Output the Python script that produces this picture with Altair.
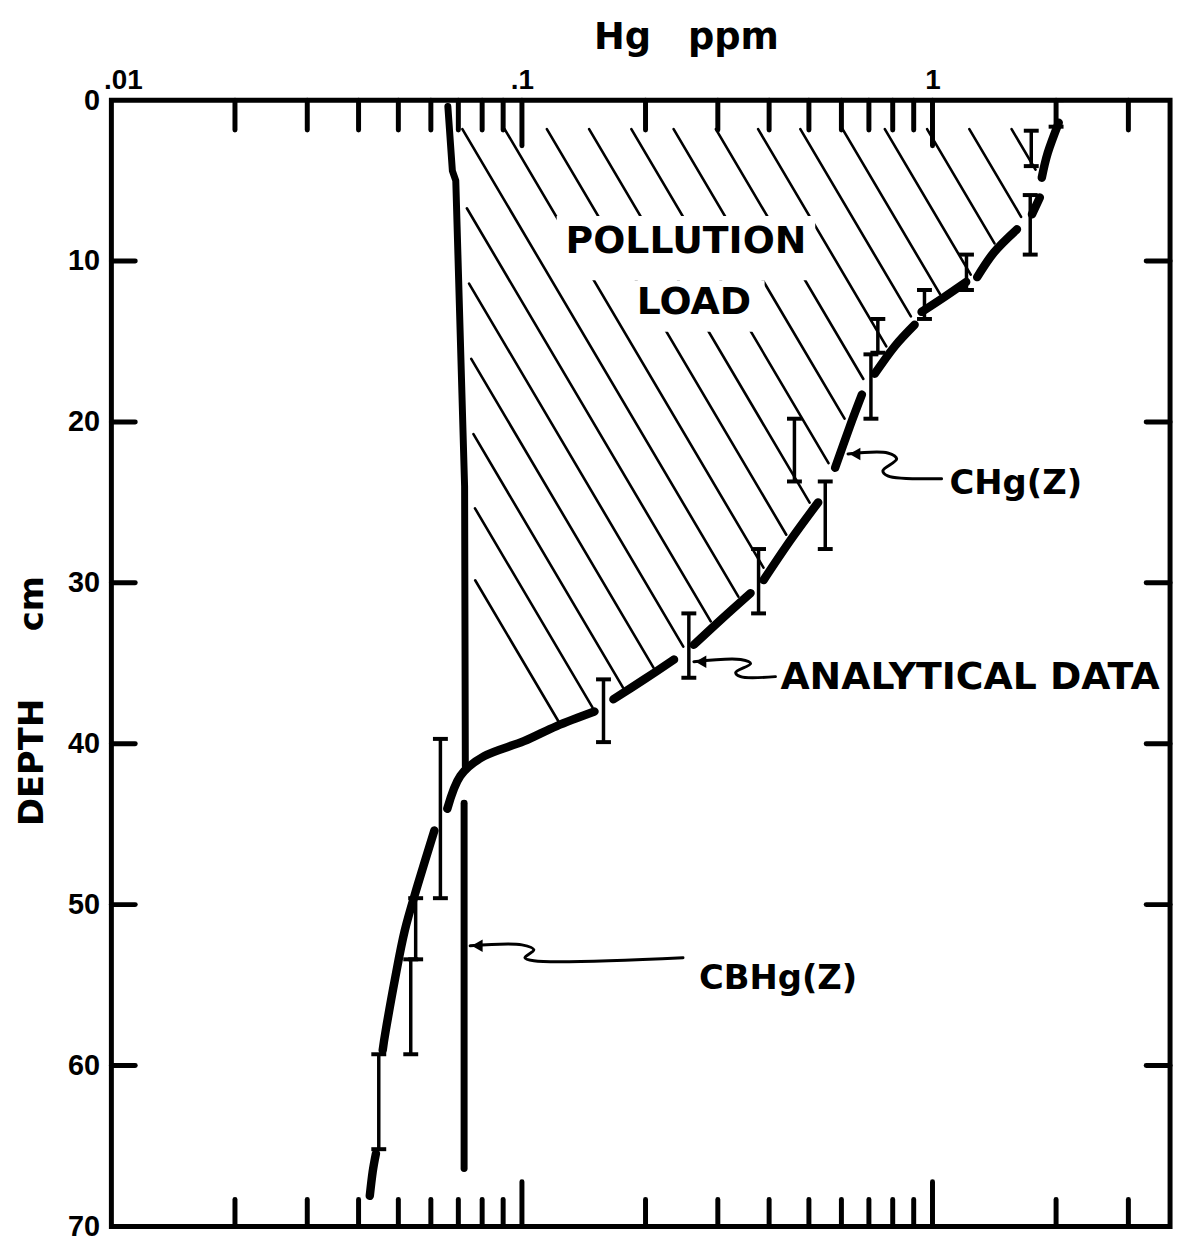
import numpy as np
import pandas as pd
import altair as alt

W, H = 1065, 1133

# ---------------- values ----------------
# x: Hg (ppm, log scale), y: depth (cm)
x_domain = [0.01, 3.79]
y_domain = [0, 70]

x_label_values = [0.01, 0.1, 1]
y_label_values = [0, 10, 20, 30, 40, 50, 60, 70]
minor_ticks = [0.02, 0.03, 0.04, 0.05, 0.06, 0.07, 0.08, 0.09,
               0.2, 0.3, 0.4, 0.5, 0.6, 0.7, 0.8, 0.9, 2, 3]
major_ticks = [0.1, 1]
depth_ticks = [10, 20, 30, 40, 50, 60]

# CBHg(Z): background concentration line
cb_upper_depth = [0.4, 4.4, 5.0, 24.0, 41.4]
cb_upper_ppm = [0.0660, 0.0677, 0.0690, 0.0725, 0.0728]
cb_lower_depth = [43.7, 66.4]
cb_lower_ppm = [0.0723, 0.0723]

# CHg(Z): measured-profile curve, drawn in broken pieces
chg_seg = [1, 1, 1, 2, 2, 3, 3, 3, 4, 4, 4, 5, 5, 5, 6, 6, 6, 7, 7, 7,
           8, 8, 8, 9, 9, 9, 10, 10, 10, 10, 10, 10,
           11, 11, 11, 11, 11, 11, 12, 12, 12]
chg_depth = [1.4, 3.27, 4.82, 6.05, 7.1, 8.03, 9.45, 11.0, 11.3, 12.23, 13.16,
             13.96, 15.3, 17.0, 18.3, 20.26, 22.85, 25.0, 27.36, 29.83,
             30.64, 32.3, 33.85, 34.77, 36.0, 37.24, 38.0, 38.9, 39.84, 40.77, 42.0, 44.04,
             45.4, 48.8, 51.64, 54.7, 57.8, 59.05, 65.47, 66.6, 68.1]
chg_ppm = [2.03, 1.909, 1.846, 1.826, 1.747, 1.606, 1.413, 1.285, 1.208, 1.069, 0.9406,
           0.9047, 0.809, 0.7237, 0.6731, 0.6295, 0.5791, 0.5267, 0.4506, 0.3877,
           0.3605, 0.3050, 0.2623, 0.2347, 0.1985, 0.1670, 0.1502, 0.1215, 0.1011, 0.0809, 0.0708, 0.0658,
           0.0612, 0.0557, 0.0518, 0.0490, 0.0466, 0.0458, 0.0441, 0.0433, 0.0426]

# Analytical data (error bars)
err_ppm = [2.0, 1.74, 1.73, 1.21, 0.956, 0.736, 0.708, 0.461, 0.548, 0.377,
           0.255, 0.158, 0.0633, 0.0551, 0.0536, 0.0448]
err_lo = [0.0, 1.9, 5.9, 9.6, 11.8, 13.6, 15.8, 19.8, 23.7, 27.9,
          31.9, 36.0, 39.7, 49.6, 53.4, 59.3]
err_hi = [1.65, 4.1, 9.6, 11.8, 13.6, 15.7, 19.8, 23.7, 27.9, 31.9,
          35.9, 39.9, 49.6, 53.4, 59.3, 65.2]

# annotation labels
big_text = ["POLLUTION", "LOAD", "ANALYTICAL DATA"]
big_ppm = [0.2509, 0.2623, 0.4261]
big_depth = [8.8, 12.6, 35.9]
big_align = ["center", "center", "left"]
small_text = ["CHg(Z)", "CBHg(Z)"]
small_ppm = [1.10, 0.2698]
small_depth = [23.85, 54.6]

# squiggly pointer lines
arrow_id = [1] * 6 + [2] * 6 + [3] * 6
arrow_ppm = [0.6226, 0.778, 0.818, 0.757, 0.778, 1.052,
             0.2623, 0.3409, 0.3605, 0.3316, 0.3409, 0.4144,
             0.0748, 0.100, 0.1069, 0.1017, 0.1069, 0.2468]
arrow_depth = [21.99, 21.93, 22.3, 23.04, 23.35, 23.53,
               34.9, 34.77, 35.02, 35.58, 35.83, 35.83,
               52.56, 52.5, 52.81, 53.3, 53.49, 53.3]
head_ppm = [0.6472, 0.2728, 0.0778]
head_depth = [21.99, 34.9, 52.56]

# white boxes keeping the hatching off the "POLLUTION LOAD" words
mask_x = [0.1215, 0.180]
mask_x2 = [0.518, 0.390]
mask_y = [7.2, 11.2]
mask_y2 = [11.2, 14.4]

# ---------------- hatching of the pollution load ----------------
HATCH_SLOPE = 0.02313   # decades of ppm per cm (screen slope of the hatch)
HATCH_STEP = 0.1029     # decades between hatch lines
HATCH_PHASE = -1.2896
dd = np.linspace(1.8, 43.5, 4171)
left_b = np.interp(dd, cb_upper_depth, np.log10(cb_upper_ppm)) + 0.025
right_b = np.interp(dd, chg_depth, np.log10(chg_ppm)) - 0.02
hatch_rows = []
for n in range(-5, 40):
    u = HATCH_PHASE + n * HATCH_STEP + HATCH_SLOPE * dd
    inside = (u > left_b) & (u < right_b)
    if not inside.any():
        continue
    idx = np.where(inside)[0]
    br = np.where(np.diff(idx) > 1)[0]
    starts = np.r_[idx[0], idx[br + 1]]
    ends = np.r_[idx[br], idx[-1]]
    for s, e in zip(starts, ends):
        if dd[e] - dd[s] < 0.3:
            continue
        hatch_rows.append({"x": 10 ** u[s], "y": dd[s], "x2": 10 ** u[e], "y2": dd[e]})
hatch_df = pd.DataFrame(hatch_rows)

# ---------------- encodings ----------------
xs = alt.Scale(type="log", domain=x_domain, nice=False)
ys = alt.Scale(domain=y_domain, reverse=True, nice=False, zero=False)

x_axis = alt.Axis(
    orient="top", values=x_label_values,
    labelExpr="datum.value < 0.05 ? '.01' : (datum.value < 0.5 ? '.1' : '1')",
    ticks=False, tickSize=0, domain=False, grid=False, labelFlush=True,
    labelFlushOffset=8,
    labelOverlap=False, labelPadding=6, labelFont="Liberation Sans",
    labelFontSize=28, labelFontWeight="bold", labelColor="black",
    title="Hg\u2003ppm", titleFont="DejaVu Sans", titleFontSize=37,
    titleFontWeight="bold", titleColor="black", titleX=578, titleY=-63,
    titleAlign="center", titleBaseline="middle")
y_axis = alt.Axis(
    orient="left", values=y_label_values, format="d",
    ticks=False, tickSize=0, domain=False, grid=False, labelOverlap=False,
    labelPadding=12, labelFont="Liberation Sans", labelFontSize=29,
    labelFontWeight="bold", labelColor="black",
    title="DEPTH\u2003\u2003cm", titleFont="DejaVu Sans", titleFontSize=34,
    titleFontWeight="bold", titleColor="black", titleAngle=270,
    titleX=-79, titleY=604, titleAlign="center", titleBaseline="middle")


def X(f="x"):
    return alt.X(f"{f}:Q", scale=xs, axis=x_axis)


def Y(f="y"):
    return alt.Y(f"{f}:Q", scale=ys, axis=y_axis)


layers = []

# hatch lines
layers.append(alt.Chart(hatch_df).mark_rule(color="black", strokeWidth=2.6, strokeCap="round")
              .encode(x=X(), y=Y(), x2="x2:Q", y2="y2:Q"))

# masks
mask_df = pd.DataFrame({"x": mask_x, "x2": mask_x2, "y": mask_y, "y2": mask_y2})
layers.append(alt.Chart(mask_df).mark_rect(color="white")
              .encode(x=X(), y=Y(), x2="x2:Q", y2="y2:Q"))

# texts
big_df = pd.DataFrame({"x": big_ppm, "y": big_depth, "t": big_text, "a": big_align})
for al in ["center", "left"]:
    layers.append(alt.Chart(big_df[big_df.a == al]).mark_text(
        font="DejaVu Sans", fontSize=38, fontWeight="bold", color="black",
        align=al, baseline="middle").encode(x=X(), y=Y(), text="t:N"))
small_df = pd.DataFrame({"x": small_ppm, "y": small_depth, "t": small_text})
layers.append(alt.Chart(small_df).mark_text(
    font="DejaVu Sans", fontSize=34, fontWeight="bold", color="black",
    align="left", baseline="middle").encode(x=X(), y=Y(), text="t:N"))

# CBHg(Z) background line
cb_df = pd.DataFrame({
    "x": cb_upper_ppm + cb_lower_ppm,
    "y": cb_upper_depth + cb_lower_depth,
    "part": ["u"] * len(cb_upper_ppm) + ["l"] * len(cb_lower_ppm),
    "o": list(range(len(cb_upper_ppm) + len(cb_lower_ppm)))})
layers.append(alt.Chart(cb_df).mark_line(color="black", strokeWidth=7, strokeCap="round",
                                         strokeJoin="round")
              .encode(x=X(), y=Y(), detail="part:N", order="o:Q"))

# CHg(Z) curve
chg_df = pd.DataFrame({"x": chg_ppm, "y": chg_depth, "seg": chg_seg,
                       "o": list(range(len(chg_ppm)))})
layers.append(alt.Chart(chg_df).mark_line(color="black", strokeWidth=8.5, strokeCap="round",
                                          strokeJoin="round", interpolate="cardinal")
              .encode(x=X(), y=Y(), detail="seg:N", order="o:Q"))

# error bars
err_df = pd.DataFrame({"x": err_ppm, "y": err_lo, "y2": err_hi})
layers.append(alt.Chart(err_df).mark_rule(color="black", strokeWidth=3.5)
              .encode(x=X(), y=Y(), y2="y2:Q"))
cap_df = pd.DataFrame({"x": err_ppm + err_ppm, "y": err_lo + err_hi})
layers.append(alt.Chart(cap_df).mark_tick(color="black", orient="horizontal", size=15,
                                          thickness=4, opacity=1)
              .encode(x=X(), y=Y()))

# pointer lines and arrow heads
arrow_df = pd.DataFrame({"x": arrow_ppm, "y": arrow_depth, "id": arrow_id,
                         "o": list(range(len(arrow_ppm)))})
layers.append(alt.Chart(arrow_df).mark_line(color="black", strokeWidth=3, strokeCap="round",
                                            interpolate="catmull-rom")
              .encode(x=X(), y=Y(), detail="id:N", order="o:Q"))
head_df = pd.DataFrame({"x": head_ppm, "y": head_depth})
layers.append(alt.Chart(head_df).mark_point(shape="triangle-left", filled=True, color="black",
                                            size=160, opacity=1)
              .encode(x=X(), y=Y()))

# inward tick marks on all four sides
minor_df = pd.DataFrame({"x": minor_ticks})
major_df = pd.DataFrame({"x": major_ticks})
depth_df = pd.DataFrame({"y": depth_ticks})
tick_style = dict(color="black", strokeWidth=5, strokeCap="round")
layers.append(alt.Chart(minor_df).mark_rule(**tick_style)
              .encode(x=X(), y=alt.value(0), y2=alt.value(30)))
layers.append(alt.Chart(major_df).mark_rule(**tick_style)
              .encode(x=X(), y=alt.value(0), y2=alt.value(46)))
layers.append(alt.Chart(minor_df).mark_rule(**tick_style)
              .encode(x=X(), y=alt.value(H - 27), y2=alt.value(H)))
layers.append(alt.Chart(major_df).mark_rule(**tick_style)
              .encode(x=X(), y=alt.value(H - 45), y2=alt.value(H)))
layers.append(alt.Chart(depth_df).mark_rule(**tick_style)
              .encode(y=Y(), x=alt.value(0), x2=alt.value(24)))
layers.append(alt.Chart(depth_df).mark_rule(**tick_style)
              .encode(y=Y(), x=alt.value(W - 24), x2=alt.value(W)))

chart = alt.layer(*layers).properties(
    width=W, height=H,
    background="white",
    autosize=alt.AutoSizeParams(type="none"),
    padding={"left": 104, "top": 89, "right": 10, "bottom": 14},
).configure_view(stroke="black", strokeWidth=5)

chart.save("out.html", embed_options={"renderer": "svg", "actions": False})
